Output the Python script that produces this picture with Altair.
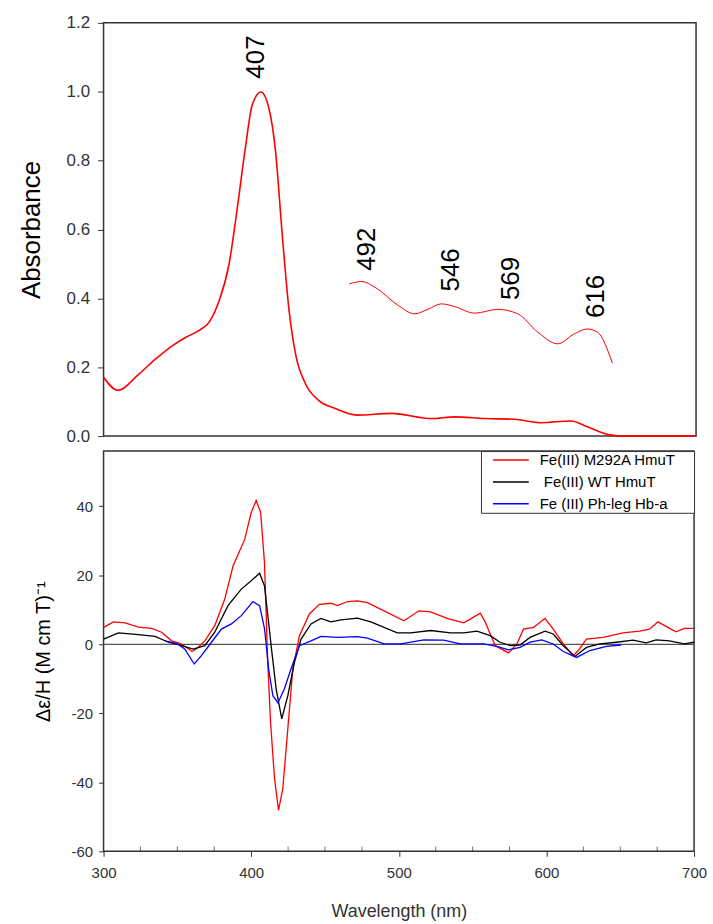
import altair as alt
import pandas as pd

FONT = "Liberation Sans"

# ---------------- top panel: absorbance ----------------
top_wl = [300, 309.6, 324, 335.4, 346.6, 355.6, 364.5, 371.3, 378, 384.7, 390.3, 396, 400.4,
          406.2, 411.6, 416.1, 420.6, 425, 429.6, 436.3, 445.2, 456.4, 471, 494.5, 521.4,
          537.1, 557.3, 577.4, 595.3, 615.5, 626.7, 640.2, 649, 670, 700]
top_abs = [0.171, 0.133, 0.181, 0.225, 0.263, 0.287, 0.307, 0.331, 0.393, 0.499, 0.663, 0.846,
           0.962, 0.999, 0.952, 0.827, 0.586, 0.374, 0.239, 0.152, 0.104, 0.080, 0.061, 0.066,
           0.051, 0.056, 0.051, 0.049, 0.039, 0.044, 0.027, 0.005, 0.0, 0.0, 0.0]

inset_wl = [465.9, 474.4, 483.3, 499, 510.2, 519.2, 528.1, 537.1, 550.5, 566.2, 579.7, 593.1,
            606.6, 617.8, 626.7, 633.4, 643.5]
inset_abs = [0.442, 0.449, 0.432, 0.379, 0.355, 0.369, 0.384, 0.376, 0.357, 0.368, 0.355, 0.302,
             0.268, 0.297, 0.311, 0.302, 0.212]

peak_labels = ["407", "492", "546", "569", "616"]
peak_wl = [402.8, 477.6, 534.3, 575.0, 632.6]
peak_y = [1.038, 0.480, 0.420, 0.395, 0.343]

# ---------------- bottom panel: MCD ----------------
series_names = ["Fe(III) M292A HmuT", "\u200b\u00a0Fe(III) WT HmuT", "Fe (III) Ph-leg Hb-a"]
series_colors = ["#ff0000", "#000000", "#0000ff"]

red_wl = [300, 306.7, 314.6, 323.6, 332.6, 339.3, 346.1, 352, 356.2, 360, 364, 368.6, 375.3, 382.1,
          387.7, 395.6, 400, 403.4, 406.4, 409, 411.2, 413.1, 415.8, 418.5, 421.4, 424.8, 428.2,
          432.7, 439.4, 446.2, 454, 458.5, 465.3, 472, 478.7, 490, 503.5, 513.6, 521.5, 532.7,
          544, 548.4, 555.2, 558.6, 565.3, 574.3, 580, 584.4, 591.2, 599, 604.6, 611.4, 618.1,
          621.5, 627.1, 638.4, 651.8, 663.1, 669.8, 675.5, 682.2, 687.8, 693.4, 700]
red_val = [4.9, 6.5, 6.2, 5.0, 4.6, 3.5, 1.0, 0.2, -0.9, -2.1, -0.9, 1.0, 5.4, 13.1,
           22.7, 30.4, 38.2, 41.7, 38.2, 23.7, -5.2, -22.5, -38.9, -48.1, -41.8, -24.5, -7.1,
           2.5, 8.8, 11.6, 11.9, 11.2, 12.4, 12.6, 12.1, 9.7, 6.8, 9.7, 9.4, 7.5,
           6.2, 7.3, 9.0, 6.4, -0.4, -2.5, 0.1, 4.4, 4.9, 7.5, 4.4, 0.1, -3.3,
           -1.8, 1.5, 2.0, 3.3, 3.8, 4.4, 6.5, 4.9, 3.6, 4.6, 4.6]

black_wl = [300, 310.1, 323.6, 334.9, 343.9, 350, 360.7, 368.6, 375.3, 384.3, 393.3, 400, 405.7,
            409, 411.8, 413.5, 416.9, 420.7, 424.8, 429.3, 433.8, 440.5, 447.3, 454, 460.8, 472,
            481, 499, 508, 521.5, 535, 543.9, 552.9, 561.9, 568.6, 575.4, 582.1, 588.9, 599,
            604.6, 611.4, 619.3, 627.1, 636.1, 647.4, 658.6, 667.6, 674.3, 683.3, 693.4, 700]
black_val = [1.5, 3.3, 2.8, 2.3, 0.6, 0.0, -1.4, -0.4, 3.5, 11.2, 16.0, 18.4, 20.6,
             16.9, 6.4, -0.4, -12.9, -21.6, -14.9, -5.2, 1.5, 5.9, 7.5, 6.5, 7.1, 7.6,
             6.5, 3.3, 3.3, 4.0, 3.3, 3.3, 3.8, 2.5, 0.6, -0.4, -0.2, 2.0, 3.8,
             3.0, -0.4, -3.5, -0.9, 0.1, 0.6, 1.2, 0.4, 1.3, 1.0, 0.1, 0.6]

blue_wl = [341.6, 350, 355.1, 361.4, 366.3, 373.1, 379.8, 386.6, 393.3, 401.2, 405.7, 409.1,
           411.8, 414.7, 418.1, 422.5, 427, 432.7, 440.5, 447.3, 458.5, 472, 478.7, 490, 501.2,
           517, 530.3, 541.6, 557.5, 566.4, 574.3, 582.1, 588.9, 596.8, 604.6, 611.4, 620.4,
           629.4, 640.6, 650.7]
blue_val = [1.0, 0.2, -1.4, -5.7, -3.3, 0.6, 4.4, 5.9, 8.3, 12.4, 11.2, 4.4,
            -7.1, -14.9, -17.0, -12.9, -7.1, -0.4, 1.0, 2.3, 2.0, 2.2, 1.8, 0.1, 0.1,
            1.3, 1.2, 0.1, 0.1, -0.6, -1.6, -0.9, 0.6, 1.3, 0.1, -2.1, -3.8,
            -1.8, -0.6, -0.2]

major_ticks = [300, 400, 500, 600, 700]
minor_ticks = [325, 350, 375, 425, 450, 475, 525, 550, 575, 625, 650, 675]
minor_base = [-60] * len(minor_ticks)
zero_wl = [300, 700]
zero_val = [0, 0]

# ---------------- build tables ----------------
main_df = pd.DataFrame({"wl": top_wl, "a": top_abs})
inset_df = pd.DataFrame({"wl": inset_wl, "a": inset_abs})
peaks_df = pd.DataFrame({"wl": peak_wl, "a": peak_y, "label": peak_labels})

mcd_df = pd.concat([
    pd.DataFrame({"wl": red_wl, "v": red_val, "series": series_names[0]}),
    pd.DataFrame({"wl": black_wl, "v": black_val, "series": series_names[1]}),
    pd.DataFrame({"wl": blue_wl, "v": blue_val, "series": series_names[2]}),
])
zero_df = pd.DataFrame({"wl": zero_wl, "v": zero_val})
minor_df = pd.DataFrame({"wl": minor_ticks, "v": minor_base})

W = 595
PAD_LABEL = "\u00a0" * 4 + "\u200b"

# ---------------- top chart ----------------
x_top = alt.X("wl:Q", scale=alt.Scale(domain=[300, 700], nice=False, zero=False), axis=None)
y_top = alt.Y(
    "a:Q",
    scale=alt.Scale(domain=[0, 1.2], nice=False),
    axis=alt.Axis(
        values=[0, 0.2, 0.4, 0.6, 0.8, 1.0, 1.2], format=".1f", title="Absorbance",
        titleFontSize=26, titleFont=FONT, titleFontWeight="normal", titleColor="black",
        titlePadding=22, labelFontSize=17, labelFont=FONT, labelColor="#333",
        tickSize=6, tickColor="#333", labelPadding=8, domain=False, grid=False,
    ),
)

main_line = alt.Chart(main_df).mark_line(color="#ff0000", strokeWidth=1.6, interpolate="monotone").encode(
    x=x_top, y=y_top)
inset_line = alt.Chart(inset_df).mark_line(color="#ff0000", strokeWidth=1.0, interpolate="monotone").encode(
    x="wl:Q", y="a:Q")
peak_text = alt.Chart(peaks_df).mark_text(
    angle=270, align="left", baseline="middle", fontSize=26, font=FONT, color="black"
).encode(x="wl:Q", y="a:Q", text="label:N")

top = alt.layer(main_line, inset_line, peak_text).properties(width=W, height=415)

# ---------------- bottom chart ----------------
x_scale = alt.Scale(domain=[300, 700], nice=False, zero=False)
y_scale = alt.Scale(domain=[-60, 56], nice=False, zero=False)

zero_line = alt.Chart(zero_df).mark_line(color="#555555", strokeWidth=1.2).encode(
    x=alt.X("wl:Q", scale=x_scale),
    y=alt.Y("v:Q", scale=y_scale),
)

minor_marks = alt.Chart(minor_df).mark_tick(
    color="#333", thickness=1, size=10, orient="vertical", clip=True
).encode(x=alt.X("wl:Q", scale=x_scale), y=alt.Y("v:Q", scale=y_scale))

mcd_lines = alt.Chart(mcd_df).mark_line(strokeWidth=1.3).encode(
    x=alt.X("wl:Q", scale=x_scale, axis=alt.Axis(
        orient="bottom", values=major_ticks, format="d", title="Wavelength (nm)",
        labelFlush=False,
        titleFontSize=18, titleFont=FONT, titleFontWeight="normal", titleColor="#333",
        titlePadding=22, labelFontSize=15, labelFont=FONT, labelColor="#333",
        labelPadding=9, tickSize=5, tickColor="#333", domain=False, grid=False)),
    y=alt.Y("v:Q", scale=y_scale, axis=alt.Axis(
        values=[-60, -40, -20, 0, 20, 40], title="Δε/H (M cm T)⁻¹",
        labelExpr="'' + datum.value",
        titleFontSize=20, titleFont=FONT, titleFontWeight="normal", titleColor="black",
        titlePadding=18, labelFontSize=15, labelFont=FONT, labelColor="#333",
        labelPadding=6, tickSize=5, tickColor="#333", domain=False, grid=False)),
    color=alt.Color("series:N", scale=alt.Scale(domain=series_names, range=series_colors),
                    legend=alt.Legend(
                        title=None, orient="top-right", offset=0, padding=1,
                        fillColor="white", strokeColor="#333",
                        symbolType="M-2.57,0H2.57", symbolSize=196, symbolStrokeWidth=1.5,
                        symbolOffset=21, labelOffset=21, rowPadding=6,
                        labelFontSize=15, labelFont=FONT, labelColor="black", labelLimit=260,
                        labelExpr="datum.label + '" + PAD_LABEL + "'")),
    detail="series:N",
)

bottom = alt.layer(zero_line, minor_marks, mcd_lines).properties(width=W - 2, height=402)

chart = alt.vconcat(top, bottom, spacing=15, bounds="flush").resolve_scale(color="independent").properties(
    padding={"left": 17, "top": 11, "right": 5, "bottom": 5}
).configure(font=FONT).configure_view(stroke="#333", strokeWidth=1.5)

chart.save("out.html", embed_options={"renderer": "svg", "actions": False})
